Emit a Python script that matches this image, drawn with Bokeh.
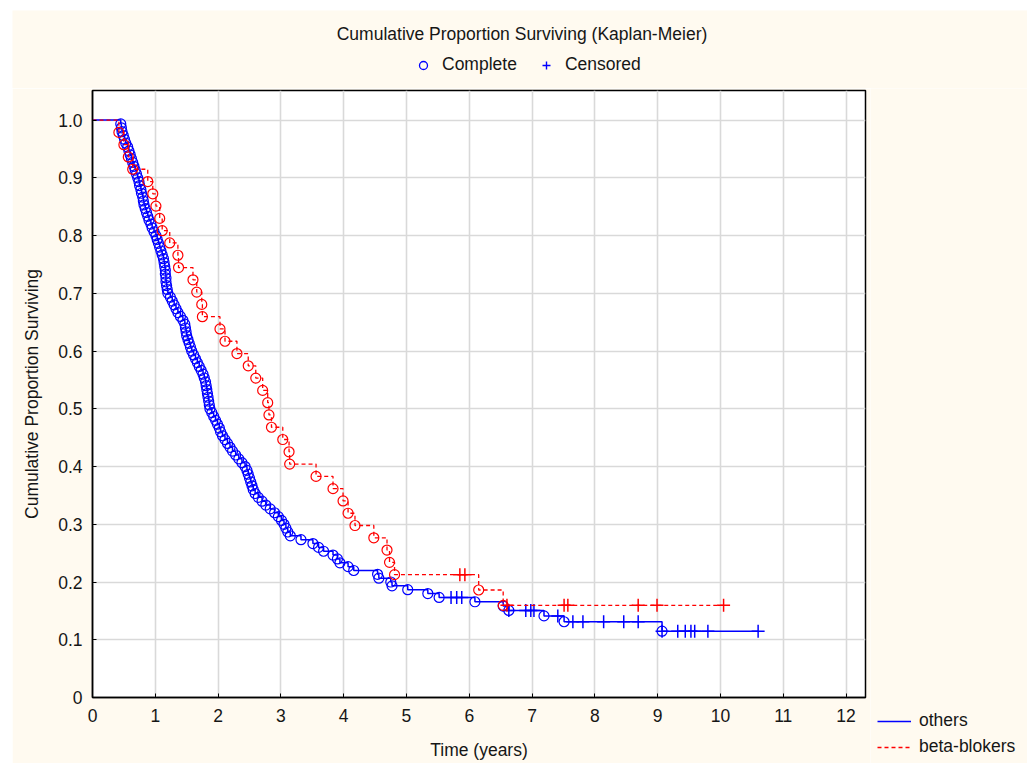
from bokeh.plotting import figure
from bokeh.layouts import column, row
from bokeh.models import Range1d, FixedTicker, Legend, LegendItem, Label
from bokeh.embed import file_html
from bokeh.resources import INLINE

# ---- data (times in years) ----
others_event_times = [
    0.45, 0.46, 0.47, 0.49, 0.51, 0.53, 0.56, 0.58, 0.60, 0.62, 0.64, 0.66, 0.68, 0.70, 0.72,
    0.74, 0.75, 0.77, 0.78, 0.80, 0.81, 0.82, 0.84, 0.86, 0.88, 0.90, 0.93, 0.95, 0.98, 1.01,
    1.03, 1.05, 1.07, 1.09, 1.11, 1.13, 1.14,
    1.15, 1.16, 1.16, 1.17, 1.17, 1.18, 1.19, 1.20,
    1.24, 1.27, 1.30, 1.33, 1.36, 1.40, 1.44,
    1.47, 1.48, 1.49, 1.50, 1.52, 1.54, 1.56, 1.58,
    1.61, 1.64, 1.67, 1.70, 1.73, 1.76, 1.78,
    1.80, 1.81, 1.82, 1.83, 1.84, 1.85, 1.86, 1.87,
    1.90, 1.93, 1.96, 1.99, 2.02, 2.04, 2.07,
    2.11, 2.15, 2.19, 2.23, 2.28, 2.33, 2.38, 2.43,
    2.46, 2.48, 2.50, 2.52, 2.54, 2.56, 2.59,
    2.64, 2.70, 2.76, 2.83, 2.90, 2.96, 3.01, 3.05,
    3.08, 3.11, 3.15,
    3.32, 3.51, 3.60, 3.68,
    3.83, 3.90, 3.94, 4.07, 4.16,
    4.54, 4.56, 4.75, 4.77, 5.02, 5.34, 5.52, 6.09, 6.54, 6.63, 7.19, 7.51, 9.07,
]
others_censored_times = [
    5.71, 5.80, 5.88, 6.63, 6.90, 6.98, 7.03, 7.41, 7.65, 7.81, 8.14, 8.46, 8.69,
    9.07, 9.32, 9.44, 9.53, 9.59, 9.80, 10.60,
]
beta_event_times = [
    0.42, 0.50, 0.57, 0.64, 0.88, 0.96, 1.01, 1.07, 1.11, 1.23, 1.36, 1.37, 1.60, 1.66,
    1.74, 1.75, 2.03, 2.11, 2.30, 2.48, 2.60, 2.71, 2.79, 2.81, 2.85, 3.03, 3.13, 3.14,
    3.56, 3.83, 3.99, 4.07, 4.18, 4.48, 4.69, 4.73, 4.81, 6.15, 6.54,
]
beta_censored_times = [5.85, 5.93, 6.60, 7.51, 7.57, 8.69, 8.99, 10.05]

x_ticks = [0, 1, 2, 3, 4, 5, 6, 7, 8, 9, 10, 11, 12]
y_ticks = [0, 0.1, 0.2, 0.3, 0.4, 0.5, 0.6, 0.7, 0.8, 0.9, 1.0]
y_tick_labels = ["0", "0.1", "0.2", "0.3", "0.4", "0.5", "0.6", "0.7", "0.8", "0.9", "1.0"]

series_names = ["others", "beta-blokers"]
marker_names = ["Complete", "Censored"]
title_text = "Cumulative Proportion Surviving (Kaplan-Meier)"

FONT = "Liberation Sans"
FS = "17.5px"
TXT = "#161616"
CREAM = "#FFFAF0"
BLUE = "#0000FF"
RED = "#FF0000"


def kaplan_meier(events, censored):
    records = sorted([(t, 0) for t in events] + [(t, 1) for t in censored])
    at_risk = len(records)
    s = 1.0
    step_x, step_y = [0.0], [1.0]
    ev_x, ev_y, ce_x, ce_y = [], [], [], []
    for t, kind in records:
        if kind == 0:
            s_new = s * (at_risk - 1) / at_risk
            step_x += [t, t]
            step_y += [s, s_new]
            s = s_new
            ev_x.append(t)
            ev_y.append(s)
        else:
            ce_x.append(t)
            ce_y.append(s)
        at_risk -= 1
    step_x.append(records[-1][0])
    step_y.append(s)
    return step_x, step_y, ev_x, ev_y, ce_x, ce_y


def blank_figure(w, h):
    f = figure(width=w, height=h, x_range=Range1d(0, w), y_range=Range1d(0, h),
               x_axis_type=None, y_axis_type=None, output_backend="svg",
               toolbar_location=None, min_border=0,
               border_fill_color=CREAM, background_fill_color=CREAM,
               outline_line_color=None)
    f.grid.visible = False
    return f


# off-screen sample positions, used only so legend swatches are drawn
OFF = [-1000.0, -999.0]

# ---------------- header: title + marker legend ----------------
top = blank_figure(1015, 78)
top.add_layout(Label(x=509.5, y=54.5, text=title_text, text_align="center",
                     text_baseline="alphabetic", text_font=FONT,
                     text_font_size=FS, text_color=TXT))
dummy_c = top.scatter(OFF[:1], OFF[:1], marker="circle", size=8, fill_color=None,
                      line_color=BLUE, line_width=1.3)
dummy_x = top.scatter(OFF[:1], OFF[:1], marker="cross", size=11, line_color=BLUE, line_width=1.4)
top_legend = Legend(
    items=[LegendItem(label=marker_names[0], renderers=[dummy_c]),
           LegendItem(label=marker_names[1], renderers=[dummy_x])],
    orientation="horizontal", location=(401, 13),
    glyph_width=20, glyph_height=20, label_height=20, label_standoff=9, spacing=19,
    padding=0, margin=0, border_line_color=None, background_fill_alpha=0,
    label_text_font=FONT, label_text_font_size=FS, label_text_color=TXT,
)
top.add_layout(top_legend, "center")

# ---------------- main plot ----------------
p = figure(
    width=858, height=675,
    x_range=Range1d(0, 12.31), y_range=Range1d(0, 1.0513),
    output_backend="svg", toolbar_location=None,
    min_border_left=80, min_border_right=5, min_border_top=2, min_border_bottom=66,
    border_fill_color=CREAM, background_fill_color="white",
    outline_line_color="black", outline_line_width=1.5,
)
p.xgrid.ticker = FixedTicker(ticks=x_ticks)
p.ygrid.ticker = FixedTicker(ticks=y_ticks)
for g in (p.xgrid, p.ygrid):
    g.grid_line_color = "#D9D9D9"
    g.grid_line_width = 1.6

p.xaxis.ticker = FixedTicker(ticks=x_ticks)
p.yaxis.ticker = FixedTicker(ticks=y_ticks)
p.yaxis.major_label_overrides = {t: l for t, l in zip(y_ticks, y_tick_labels)}
p.xaxis.axis_label = "Time (years)"
p.yaxis.axis_label = "Cumulative Proportion Surviving"
for ax in (p.xaxis[0], p.yaxis[0]):
    ax.axis_line_color = "black"
    ax.axis_line_width = 1.5
    ax.major_tick_in = 4
    ax.major_tick_out = 0
    ax.major_tick_line_color = "black"
    ax.minor_tick_line_color = None
    ax.major_label_text_font = FONT
    ax.major_label_text_font_size = FS
    ax.major_label_text_color = TXT
    ax.axis_label_text_font = FONT
    ax.axis_label_text_font_size = FS
    ax.axis_label_text_font_style = "normal"
    ax.axis_label_text_color = TXT
p.xaxis.major_label_standoff = 11
p.yaxis.major_label_standoff = 10
p.xaxis.axis_label_standoff = 15
p.yaxis.axis_label_standoff = 13

colors = [BLUE, RED]
dashes = ["solid", "4 3"]
widths = [1.5, 1.3]
for (ev, ce), color, dash, w in zip(
    [(others_event_times, others_censored_times), (beta_event_times, beta_censored_times)],
    colors, dashes, widths,
):
    sx, sy, ex, ey, cx, cy = kaplan_meier(ev, ce)
    p.line(sx, sy, line_color=color, line_width=w, line_dash=dash)
    p.scatter(ex, ey, marker="circle", size=10, fill_color=None, line_color=color, line_width=1.2)
    p.scatter(cx, cy, marker="cross", size=13, line_color=color, line_width=1.5)

# ---------------- side: series legend ----------------
side = blank_figure(157, 675)
side_lines = [side.line(OFF, OFF, line_color=c, line_width=w, line_dash=d)
              for c, w, d in zip(colors, widths, dashes)]
series_legend = Legend(
    items=[LegendItem(label=n, renderers=[r]) for n, r in zip(series_names, side_lines)],
    orientation="vertical", location=(7, 6),
    glyph_width=34, glyph_height=20, label_height=20, label_standoff=8, spacing=5,
    padding=0, margin=0, border_line_color=None, background_fill_alpha=0,
    label_text_font=FONT, label_text_font_size=FS, label_text_color=TXT,
)
side.add_layout(series_legend, "center")

layout = column(top, row(p, column(side, spacing=0), spacing=0), spacing=0,
                margin=(10, 0, 0, 12))

open("out.html", "w").write(file_html(layout, INLINE))
